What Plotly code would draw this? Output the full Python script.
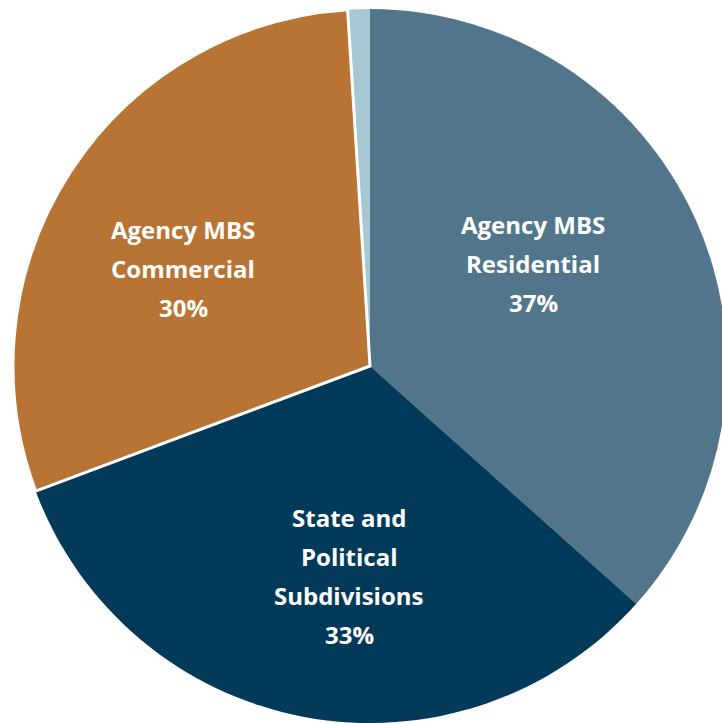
import plotly.graph_objects as go

# Portfolio composition by security type (share of total, %)
categories = [
    "Other",
    "Agency MBS<br>Residential",
    "State and<br>Political<br>Subdivisions",
    "Agency MBS<br>Commercial",
]
shares = [1.0, 36.6, 32.7, 29.7]
colors = ["#A7C7D2", "#51768C", "#033A5A", "#B87434"]
show_label = [False, True, True, True]

# Label block anchors in pixels (centre x, centre of first line y)
label_anchor = {
    1: (533, 224),
    2: (349, 517),
    3: (183, 229),
}
LINE_GAP = 39

W, H = 740, 723
CX, CY, R = 370, 366, 357

total = sum(shares)

fig = go.Figure(
    go.Pie(
        labels=categories,
        values=shares,
        sort=False,
        direction="clockwise",
        # the small slice sits just left of 12 o'clock, the rest follow clockwise
        rotation=-360 * shares[0] / total,
        marker=dict(
            colors=colors,
            line=dict(color="white", width=[0, 0, 0, 3]),
        ),
        textinfo="none",
        hoverinfo="label+percent",
        showlegend=False,
        domain=dict(
            x=[(CX - R) / W, (CX + R) / W],
            y=[(H - (CY + R)) / H, (H - (CY - R)) / H],
        ),
    )
)

annotations = []
for i, cat in enumerate(categories):
    if not show_label[i]:
        continue
    lines = cat.split("<br>") + [f"{round(shares[i] / total * 100)}%"]
    ax, ay = label_anchor[i]
    for k, line in enumerate(lines):
        annotations.append(
            dict(
                text=f"<b>{line}</b>",
                x=ax / W,
                y=1 - (ay + k * LINE_GAP) / H,
                xref="paper",
                yref="paper",
                xanchor="center",
                yanchor="middle",
                showarrow=False,
                font=dict(family="Open Sans", size=24, color="white"),
            )
        )

fig.update_layout(
    width=W,
    height=H,
    margin=dict(l=0, r=0, t=0, b=0),
    paper_bgcolor="white",
    plot_bgcolor="white",
    annotations=annotations,
)

fig.write_html(
    "out.html",
    post_script=(
        "document.documentElement.style.overflow='hidden';"
        "document.body.style.overflow='hidden';"
    ),
)
